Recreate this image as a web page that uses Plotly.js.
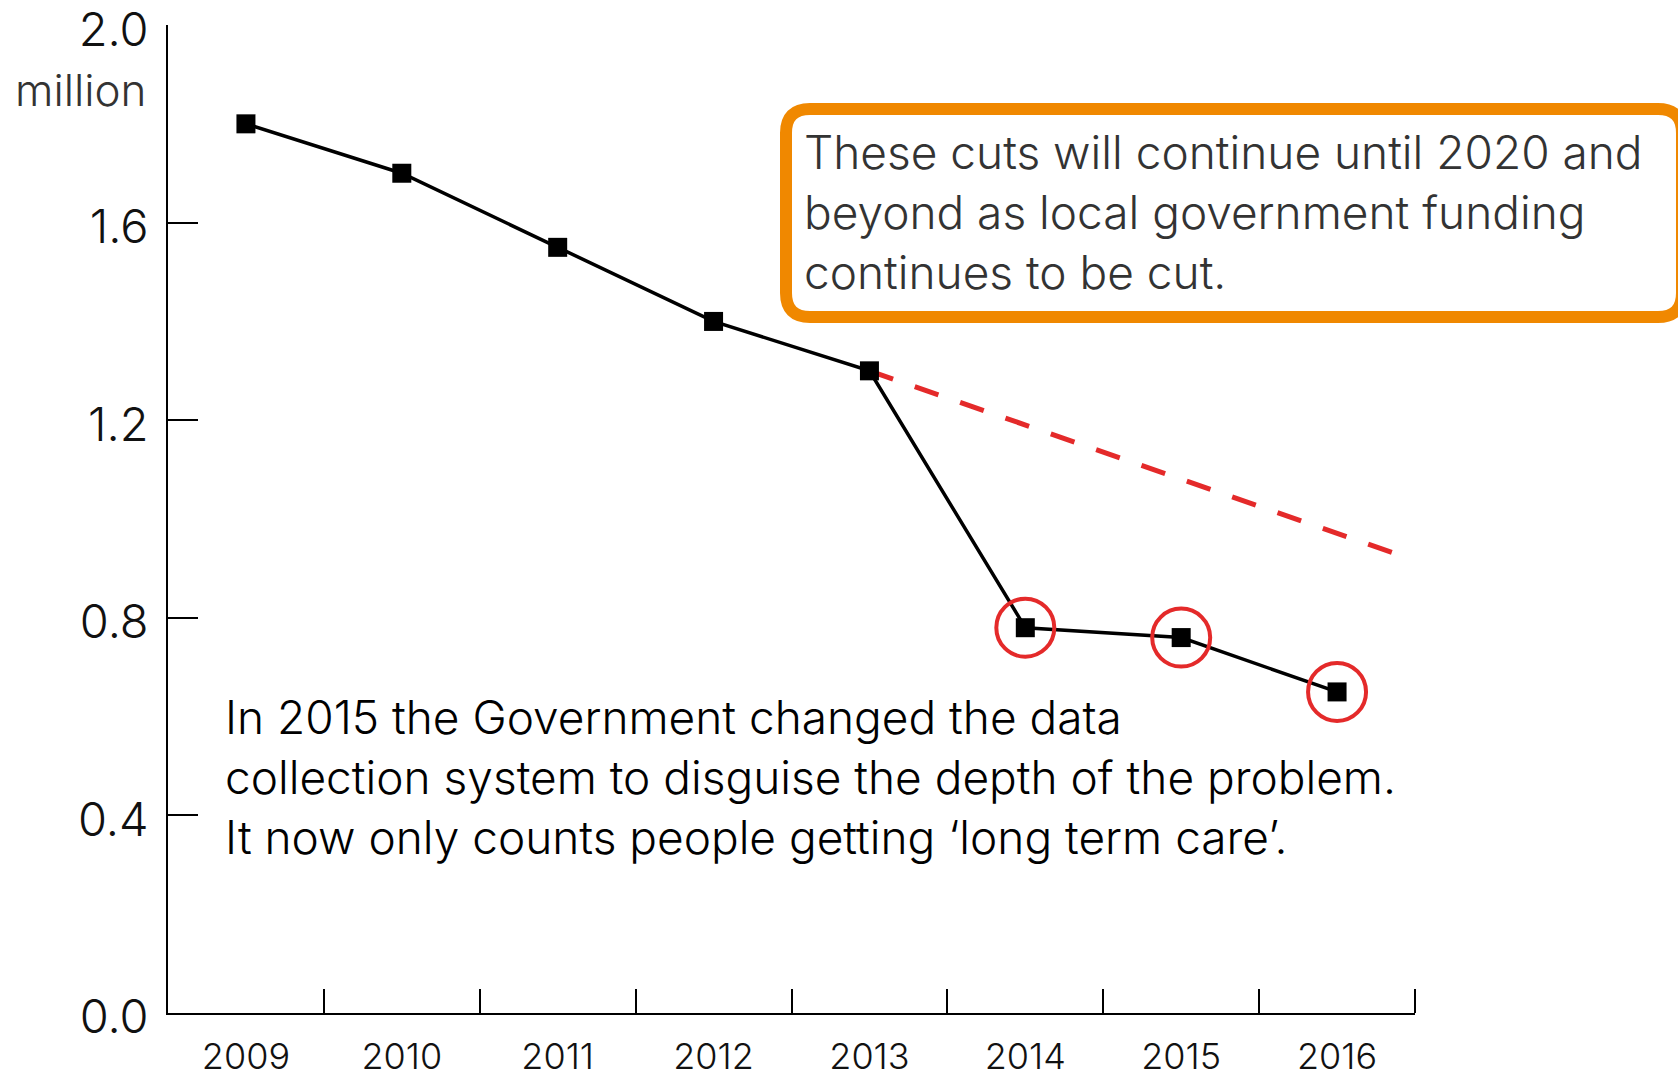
<!DOCTYPE html>
<html>
<head>
<meta charset="utf-8">
<script src="https://cdn.plot.ly/plotly-3.0.1.min.js"></script>
<style>
  html, body { margin: 0; padding: 0; background: #ffffff; }
  #chart { width: 1678px; height: 1078px; }
  #chart svg text { font-variant-numeric: tabular-nums; }
</style>
</head>
<body>
<div id="chart"></div>
<script>
// ---- data ----
const years = [2009, 2010, 2011, 2012, 2013, 2014, 2015, 2016];
const recipients = [1.80, 1.70, 1.55, 1.40, 1.30, 0.78, 0.76, 0.65]; // million people
const highlightYears = [2014, 2015, 2016];
const trendYears = [2013, 2016.42];
const trendValues = [1.30, 0.925];
const yTickValues = [0.0, 0.4, 0.8, 1.2, 1.6, 2.0];
const yearLabels = years.map(String);
const boxText = "These cuts will continue until 2020 and<br>beyond as local government funding<br>continues to be cut.";
const noteText = "In 2015 the Government changed the data<br>collection system to disguise the depth of the problem.<br>It now only counts people getting \u2018long term care\u2019.";
const unitLabel = "million";

const highlightValues = highlightYears.map(y => recipients[years.indexOf(y)]);
const yearBoundaries = years.map(y => y + 0.5);

// ---- layout geometry ----
const W = 1678, H = 1078;
const M = { l: 168, r: 263, t: 25, b: 65 };
const plotW = W - M.l - M.r, plotH = H - M.t - M.b;
const px2paperX = x => (x - M.l) / plotW;
const px2paperY = y => (H - M.b - y) / plotH;

function roundedRectPath(x0, y0, x1, y1, r) {
  const P = (x, y) => px2paperX(x).toFixed(5) + ',' + px2paperY(y).toFixed(5);
  return 'M' + P(x0 + r, y0) +
    ' L' + P(x1 - r, y0) + ' Q' + P(x1, y0) + ' ' + P(x1, y0 + r) +
    ' L' + P(x1, y1 - r) + ' Q' + P(x1, y1) + ' ' + P(x1 - r, y1) +
    ' L' + P(x0 + r, y1) + ' Q' + P(x0, y1) + ' ' + P(x0, y1 - r) +
    ' L' + P(x0, y0 + r) + ' Q' + P(x0, y0) + ' ' + P(x0 + r, y0) + ' Z';
}

const FONT = "Inter, 'Liberation Sans', Arial, sans-serif";
const RED = '#e42a2a';
const ORANGE = '#f08800';

const traces = [
  {
    x: trendYears, y: trendValues, type: 'scatter', mode: 'lines',
    line: { color: RED, width: 5, dash: '25px,23px' },
    hoverinfo: 'skip', showlegend: false
  },
  {
    x: years, y: recipients, type: 'scatter', mode: 'lines+markers',
    line: { color: '#000000', width: 3.5 },
    marker: { symbol: 'square', size: 19, color: '#000000' },
    showlegend: false
  },
  {
    x: highlightYears, y: highlightValues, type: 'scatter', mode: 'markers',
    marker: { symbol: 'circle-open', size: 58, color: RED, line: { color: RED, width: 4 } },
    hoverinfo: 'skip', showlegend: false, cliponaxis: false
  }
];

const layout = {
  width: W, height: H,
  margin: M,
  paper_bgcolor: '#ffffff', plot_bgcolor: '#ffffff',
  font: { family: FONT, color: '#111111', weight: 300 },
  showlegend: false,
  xaxis: {
    range: [years[0] - 0.5, years[years.length - 1] + 0.5],
    tickmode: 'array', tickvals: years, ticktext: yearLabels,
    ticks: '', showgrid: false, zeroline: false,
    showline: true, linecolor: '#000000', linewidth: 2,
    tickfont: { size: 36, family: FONT, color: '#111111', weight: 300 },
    ticklabelstandoff: 11, ticklabeloverflow: 'allow',
    minor: { tickmode: 'array', tickvals: yearBoundaries, ticks: 'inside', ticklen: 24, tickwidth: 2, tickcolor: '#000000', showgrid: false }
  },
  yaxis: {
    range: [0, 2.0001],
    tickmode: 'array', tickvals: yTickValues, tickformat: '.1f',
    ticks: 'inside', ticklen: 30, tickwidth: 2, tickcolor: '#000000',
    showgrid: false, zeroline: false,
    showline: true, linecolor: '#000000', linewidth: 2,
    tickfont: { size: 47, family: FONT, color: '#111111', weight: 300 },
    ticklabelstandoff: 8, ticklabelshift: 4, ticklabeloverflow: 'allow'
  },
  shapes: [
    {
      type: 'path', xref: 'paper', yref: 'paper', layer: 'below',
      path: roundedRectPath(786, 109, 1682, 317, 24),
      line: { color: ORANGE, width: 12 }, fillcolor: '#ffffff'
    }
  ],
  annotations: [
    {
      text: unitLabel, xref: 'paper', yref: 'paper',
      x: px2paperX(148), y: px2paperY(90), xanchor: 'right', yanchor: 'middle',
      showarrow: false, font: { size: 44, family: FONT, color: '#333333', weight: 300 }
    },
    {
      text: boxText, xref: 'paper', yref: 'paper', align: 'left',
      x: px2paperX(802), y: px2paperY(212), xanchor: 'left', yanchor: 'middle',
      showarrow: false, font: { size: 46, family: FONT, color: '#333333', weight: 300 }
    },
    {
      text: noteText, xref: 'paper', yref: 'paper', align: 'left',
      x: px2paperX(223), y: px2paperY(777), xanchor: 'left', yanchor: 'middle',
      showarrow: false, font: { size: 46, family: FONT, color: '#000000', weight: 300 }
    }
  ]
};

Plotly.newPlot('chart', traces, layout, { displayModeBar: false, staticPlot: true });
</script>
</body>
</html>
